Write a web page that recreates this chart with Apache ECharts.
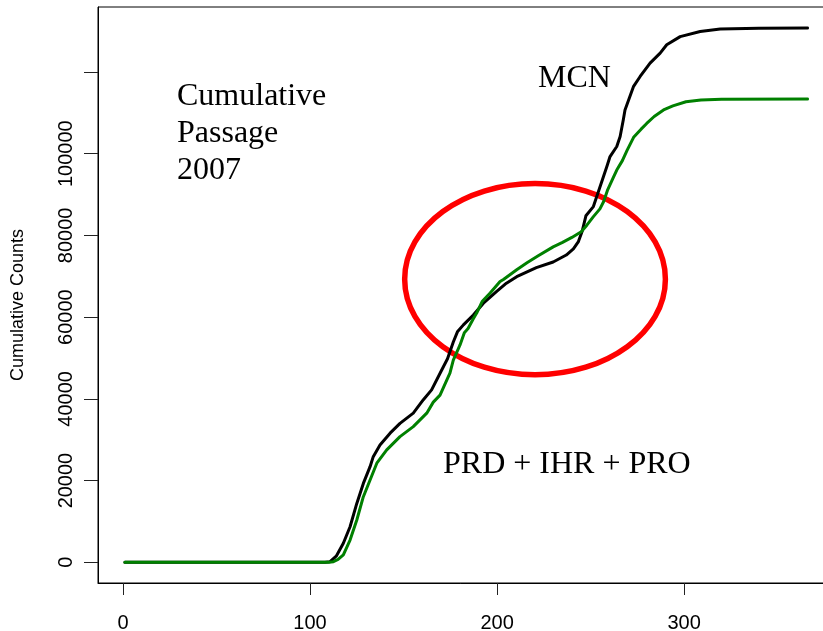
<!DOCTYPE html>
<html>
<head>
<meta charset="utf-8">
<title>Cumulative Passage 2007</title>
<script src="https://cdn.jsdelivr.net/npm/echarts@6/dist/echarts.min.js"></script>
<style>
  html, body { margin: 0; padding: 0; background: #ffffff; }
  #chart { width: 823px; height: 631px; }
</style>
</head>
<body>
<div id="chart"></div>
<script>
// Day of year vs cumulative fish counts, 2007.
const mcnSeries = [
  [1, 0], [108, 0], [110.7, 150], [114, 1500], [117.8, 4650], [121.4, 8700],
  [125, 14400], [128.5, 19300], [132.1, 23400], [133.8, 25850], [137.4, 28700],
  [142.8, 31600], [148.1, 34000], [155.2, 36500], [160.6, 39800], [165, 42200],
  [170, 46700], [173.5, 49800], [176.6, 53900], [178.8, 56400], [182, 58100],
  [187.3, 60500], [192.7, 63400], [199.8, 66300], [205, 68300], [210.5, 69900],
  [221, 72100], [230, 73500], [237, 75200], [240.8, 76700], [243.5, 78500],
  [245.5, 81000], [247.5, 84800], [251.5, 87050], [255.1, 91950], [258.7, 96850],
  [260.4, 99300], [264, 101750], [265.8, 104200], [267.5, 108300], [268.4, 110700],
  [272.9, 116400], [276.5, 118900], [281.8, 122150], [287.2, 124600], [290.7, 126650],
  [297.9, 128650], [308.6, 129900], [319.3, 130500], [340, 130700], [366, 130750]
];

const prdIhrProSeries = [
  [1, 0], [110, 0], [112.5, 150], [115, 700], [117.8, 1800], [121.4, 5450],
  [125, 10350], [128.5, 16050], [132.1, 20150], [135.7, 24250], [141, 27500],
  [148.1, 30750], [155.2, 33200], [162.4, 36500], [165.9, 39200], [169.5, 40900],
  [173.1, 44600], [174.8, 46300], [176.6, 49500], [180.2, 53200], [182.5, 56200],
  [184.5, 57200], [187.3, 59600], [189.1, 61000], [192, 63800], [196.3, 65900],
  [201.6, 68700], [203.4, 69200], [210.5, 71600], [216, 73300], [222, 75000],
  [230, 77200], [235, 78300], [240, 79500], [245, 80900], [248, 82500],
  [251.5, 84600], [255, 86500], [257, 88300], [259, 91000], [262, 94000],
  [264, 96000], [267, 98300], [269.5, 100800], [273, 104000], [277, 106000],
  [280, 107400], [284, 109100], [289, 110700], [294, 111700], [301, 112700],
  [309, 113150], [320, 113350], [366, 113400]
];

// Highlighted region: centre [day, count] and radii [days, count].
const highlightCenter = [220.3, 69300];
const highlightRadius = [69.7, 23400];

const xTicks = [0, 100, 200, 300];
const yTicks = [0, 20000, 40000, 60000, 80000, 100000, 120000];
const yLabels = [0, 20000, 40000, 60000, 80000, 100000];

const chart = echarts.init(document.getElementById('chart'), null, { renderer: 'canvas' });

const sansFont = 'Liberation Sans, Arial, sans-serif';
const serifFont = 'Liberation Serif, Times New Roman, serif';

chart.setOption({
  animation: false,
  backgroundColor: '#ffffff',
  grid: {
    left: 98, top: 7, right: -1, bottom: 48,
    outerBoundsMode: 'none', containLabel: false,
    show: true, borderColor: '#000000', borderWidth: 1, backgroundColor: 'transparent'
  },
  xAxis: {
    type: 'value',
    min: -13.37, max: 374.8,
    axisLine: { show: true, onZero: false, lineStyle: { color: '#000000', width: 1 } },
    axisTick: { show: true, length: 12, customValues: xTicks, lineStyle: { color: '#222222', width: 1 } },
    axisLabel: {
      customValues: xTicks, margin: 30,
      color: '#000000', fontFamily: sansFont, fontSize: 20,
      formatter: v => String(v)
    },
    splitLine: { show: false }
  },
  yAxis: {
    type: 'value',
    min: -5070, max: 135900,
    axisLine: { show: true, onZero: false, lineStyle: { color: '#000000', width: 1 } },
    axisTick: { show: true, length: 14, customValues: yTicks, lineStyle: { color: '#222222', width: 1 } },
    axisLabel: {
      customValues: yLabels, rotate: 90, margin: 22,
      color: '#000000', fontFamily: sansFont, fontSize: 20,
      formatter: v => String(v)
    },
    splitLine: { show: false }
  },
  graphic: [
    {
      type: 'text', x: 18, y: 305, rotation: Math.PI / 2,
      style: {
        text: 'Cumulative Counts', fill: '#000000',
        font: '18px ' + sansFont, align: 'center', verticalAlign: 'middle'
      }
    },
    {
      type: 'text', x: 177, y: 78,
      style: {
        text: 'Cumulative\nPassage\n2007', fill: '#000000',
        font: '32px ' + serifFont, lineHeight: 37, align: 'left', verticalAlign: 'top'
      }
    },
    {
      type: 'text', x: 538, y: 63,
      style: {
        text: 'MCN', fill: '#000000',
        font: '32px ' + serifFont, lineHeight: 32, align: 'left', verticalAlign: 'top'
      }
    },
    {
      type: 'text', x: 443, y: 449,
      style: {
        text: 'PRD + IHR + PRO', fill: '#000000',
        font: '32px ' + serifFont, lineHeight: 32, align: 'left', verticalAlign: 'top'
      }
    }
  ],
  series: [
    {
      name: 'MCN', type: 'line', data: mcnSeries,
      showSymbol: false, smooth: false, clip: true,
      lineStyle: { color: '#000000', width: 3, join: 'round', cap: 'round' },
      emphasis: { disabled: true }
    },
    {
      name: 'PRD + IHR + PRO', type: 'line', data: prdIhrProSeries,
      showSymbol: false, smooth: false, clip: true,
      lineStyle: { color: '#008000', width: 3, join: 'round', cap: 'round' },
      emphasis: { disabled: true }
    },
    {
      name: 'highlight', type: 'custom', clip: false, silent: true,
      data: [[highlightCenter[0], highlightCenter[1]]],
      renderItem: function (params, api) {
        const c = api.coord([api.value(0), api.value(1)]);
        const s = api.size([highlightRadius[0], highlightRadius[1]]);
        return {
          type: 'ellipse',
          shape: { cx: c[0], cy: c[1], rx: s[0], ry: s[1] },
          style: { fill: 'none', stroke: '#ff0000', lineWidth: 5.5 }
        };
      }
    }
  ]
});
</script>
</body>
</html>
